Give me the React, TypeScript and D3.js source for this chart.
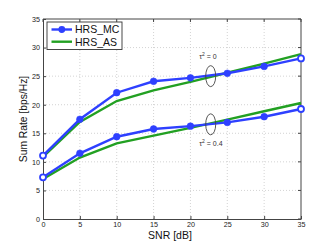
import React from "react";
import * as d3 from "d3";

const snr = [0, 5, 10, 15, 20, 25, 30, 35];
const mcTau0 = [11.1, 17.45, 22.1, 24.1, 24.7, 25.5, 26.7, 28.1];
const asTau0 = [10.85, 17.0, 20.65, 22.5, 24.0, 25.6, 27.2, 28.85];
const mcTau04 = [7.3, 11.5, 14.4, 15.75, 16.25, 16.9, 17.9, 19.25];
const asTau04 = [7.0, 10.75, 13.25, 14.6, 15.95, 17.4, 18.85, 20.3];
const xTicks = [0, 5, 10, 15, 20, 25, 30, 35];
const yTicks = [0, 5, 10, 15, 20, 25, 30, 35];
const seriesNames = ["HRS_MC", "HRS_AS"];

const BLUE = "#2e40ff";
const GREEN = "#22a022";

const App = () => {
  const svgRef = React.useRef(null);
  const width = 332;
  const height = 247;
  const margin = { left: 43, right: 31, top: 19, bottom: 28 };

  React.useEffect(() => {
    const x = d3.scaleLinear().domain([0, 35]).range([margin.left, width - margin.right]);
    const y = d3.scaleLinear().domain([0, 35]).range([height - margin.bottom, margin.top]);
    const svgEl = d3.select(svgRef.current);
    svgEl.selectAll("*").remove();
    const svg = svgEl.append("g");
    const font = "Liberation Sans, Arial, sans-serif";

    svg.append("rect").attr("x", 0).attr("y", 0).attr("width", width).attr("height", height).attr("fill", "white");

    // grid
    const grid = svg.append("g").attr("stroke", "#c8c8c8").attr("stroke-dasharray", "1,2").attr("stroke-width", 0.8);
    xTicks.slice(1, -1).forEach((t) => {
      grid.append("line").attr("x1", x(t)).attr("x2", x(t)).attr("y1", y(0)).attr("y2", y(35));
    });
    yTicks.slice(1, -1).forEach((t) => {
      grid.append("line").attr("x1", x(0)).attr("x2", x(35)).attr("y1", y(t)).attr("y2", y(t));
    });

    // axes
    const xAxis = svg.append("g")
      .attr("transform", `translate(0,${y(0)})`)
      .call(d3.axisBottom(x).tickValues(xTicks).tickSizeInner(-3).tickSizeOuter(0).tickPadding(3));
    const yAxis = svg.append("g")
      .attr("transform", `translate(${x(0)},0)`)
      .call(d3.axisLeft(y).tickValues(yTicks).tickSizeInner(-3).tickSizeOuter(0).tickPadding(3));
    [xAxis, yAxis].forEach((g) => {
      g.select(".domain").attr("stroke", "#444").attr("stroke-width", 1);
      g.selectAll("line").attr("stroke", "#444");
      g.selectAll("text").attr("font-family", font).attr("font-size", 7.2).attr("fill", "#222");
    });
    // top and right border
    svg.append("line").attr("x1", x(0)).attr("x2", x(35)).attr("y1", y(35)).attr("y2", y(35)).attr("stroke", "#444");
    svg.append("line").attr("x1", x(35)).attr("x2", x(35)).attr("y1", y(0)).attr("y2", y(35)).attr("stroke", "#444");
    // right/top ticks
    yTicks.forEach((t) => {
      svg.append("line").attr("x1", x(35)).attr("x2", x(35) - 3).attr("y1", y(t)).attr("y2", y(t)).attr("stroke", "#444");
    });
    xTicks.forEach((t) => {
      svg.append("line").attr("x1", x(t)).attr("x2", x(t)).attr("y1", y(35)).attr("y2", y(35) + 3).attr("stroke", "#444");
    });

    const line = d3.line<number>().x((d, i) => x(snr[i])).y((d) => y(d));

    const drawGreen = (vals: number[]) => {
      svg.append("path").attr("d", line(vals)).attr("fill", "none").attr("stroke", GREEN).attr("stroke-width", 2.4);
    };
    const drawBlue = (vals: number[]) => {
      svg.append("path").attr("d", line(vals)).attr("fill", "none").attr("stroke", BLUE).attr("stroke-width", 2.4);
      svg.selectAll(null)
        .data(vals)
        .enter()
        .append("circle")
        .attr("cx", (d, i) => x(snr[i]))
        .attr("cy", (d) => y(d))
        .attr("r", (d, i) => (i === 0 || i === vals.length - 1 ? 3 : 3.4))
        .attr("fill", (d, i) => (i === 0 || i === vals.length - 1 ? "white" : BLUE))
        .attr("stroke", BLUE)
        .attr("stroke-width", (d, i) => (i === 0 || i === vals.length - 1 ? 1.8 : 0.5));
    };
    drawGreen(asTau0);
    drawGreen(asTau04);
    drawBlue(mcTau0);
    drawBlue(mcTau04);

    // annotations
    const ann = [
      { cy: 25.0, label: "0", ly: 28.0 },
      { cy: 16.57, label: "0.4", ly: 12.75 },
    ];
    ann.forEach((a) => {
      svg.append("ellipse").attr("cx", x(22.75)).attr("cy", y(a.cy)).attr("rx", 5).attr("ry", 10.5)
        .attr("fill", "none").attr("stroke", "#444").attr("stroke-width", 0.9);
      const t = svg.append("text").attr("x", x(21.2)).attr("y", y(a.ly))
        .attr("font-family", font).attr("font-size", 7).attr("fill", "#333");
      t.append("tspan").text("τ");
      t.append("tspan").attr("font-size", 5).attr("dy", -3).text("2");
      t.append("tspan").attr("dy", 3).text(` = ${a.label}`);
    });

    // legend
    const lg = svg.append("g");
    lg.append("rect").attr("x", 47).attr("y", 22).attr("width", 75).attr("height", 27.5)
      .attr("fill", "white").attr("stroke", "#333").attr("stroke-width", 0.9);
    seriesNames.forEach((name, i) => {
      const ly = 29.5 + i * 12.2;
      const c = i === 0 ? BLUE : GREEN;
      lg.append("line").attr("x1", 51.5).attr("x2", 72).attr("y1", ly).attr("y2", ly).attr("stroke", c).attr("stroke-width", 2.4);
      if (i === 0) lg.append("circle").attr("cx", 61.8).attr("cy", ly).attr("r", 3.4).attr("fill", BLUE);
      lg.append("text").attr("x", 75).attr("y", ly + 3.8).attr("font-family", font).attr("font-size", 10.5)
        .attr("fill", "#111").text(name);
    });

    // axis labels
    svg.append("text").attr("x", 170).attr("y", 238.7).attr("text-anchor", "middle")
      .attr("font-family", font).attr("font-size", 10.5).attr("fill", "#111").text("SNR [dB]");
    svg.append("text").attr("transform", `translate(27,${(y(0) + y(35)) / 2}) rotate(-90)`)
      .attr("text-anchor", "middle").attr("font-family", font).attr("font-size", 10.3).attr("fill", "#111")
      .text("Sum Rate [bps/Hz]");
  }, []);

  return (
    <svg ref={svgRef} width={width} height={height}
      style={{ position: "absolute", left: 0, top: 0 }} />
  );
};

export default App;
